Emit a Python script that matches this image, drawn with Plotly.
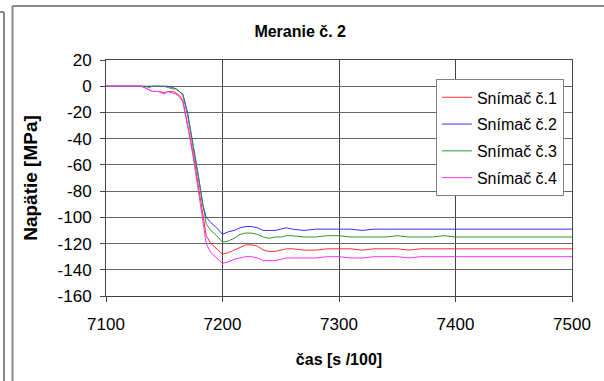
import plotly.graph_objects as go

time = [7100, 7125, 7130, 7133, 7137, 7140, 7145, 7150, 7153, 7157, 7160, 7163, 7166,
        7170, 7175, 7180, 7183, 7186, 7190, 7195, 7200, 7205, 7210, 7215, 7220, 7225,
        7230, 7235, 7240, 7245, 7250, 7255, 7260, 7270, 7280, 7290, 7300, 7310, 7320,
        7330, 7340, 7350, 7360, 7370, 7380, 7390, 7400, 7420, 7440, 7460, 7480, 7500]

snimac1 = [0, 0, 0, -1, -3, -4, -4, -5, -4, -4, -5, -7, -11,
           -28, -52, -80, -98, -114, -120, -124, -128, -127, -125, -123, -121, -121,
           -122, -125, -126, -126, -125, -124, -124, -125, -125, -124, -124, -124, -125,
           -124, -124, -124, -125, -124, -124, -124, -124, -124, -124, -124, -124, -124]

snimac2 = [0, 0, 0, 0, 0, 0, 0, 0, 0, -1, -2, -4, -6,
           -20, -45, -72, -90, -100, -104, -108, -113, -111, -110, -108, -107, -107,
           -108, -110, -110, -110, -109, -108, -109, -110, -109, -109, -109, -109, -110,
           -109, -109, -109, -109, -109, -109, -109, -109, -109, -109, -109, -109, -109]

snimac3 = [0, 0, 0, 0, -1, 0, 0, 0, -1, -2, -2, -4, -7,
           -22, -47, -74, -92, -105, -110, -114, -119, -118, -116, -113, -112, -112,
           -113, -115, -116, -115, -115, -114, -114, -115, -115, -114, -114, -115, -115,
           -115, -115, -114, -115, -115, -115, -114, -115, -115, -115, -115, -115, -115]

snimac4 = [0, 0, 0, -1, -3, -4, -4, -6, -4, -5, -6, -8, -12,
           -30, -55, -84, -104, -120, -127, -131, -135, -134, -132, -131, -130, -130,
           -131, -133, -133, -133, -132, -131, -131, -131, -131, -130, -130, -131, -131,
           -130, -130, -130, -131, -130, -130, -130, -130, -130, -130, -130, -130, -130]

names = ["Snímač č.1", "Snímač č.2", "Snímač č.3", "Snímač č.4"]
colors = ["#FF3030", "#3030FF", "#2E9A2E", "#FF30FF"]
series = [snimac1, snimac2, snimac3, snimac4]

x_ticks = [7100, 7200, 7300, 7400, 7500]
y_ticks = [20, 0, -20, -40, -60, -80, -100, -120, -140, -160]

fig = go.Figure()
for i, (nm, col, vals) in enumerate(zip(names, colors, series)):
    fig.add_trace(go.Scatter(x=time, y=vals, mode="lines", name=nm,
                             legendgroup=f"g{i}",
                             line=dict(color=col, width=1)))

font = "Liberation Sans, Arial, sans-serif"
fig.update_layout(
    width=604, height=381,
    margin=dict(l=106, r=32, t=60, b=85),
    paper_bgcolor="white", plot_bgcolor="white",
    font=dict(family=font, color="#000000"),
    title=dict(text="<b>Meranie č. 2</b>", x=0.497, xref="container", xanchor="center",
               y=1 - 31 / 381, yref="container", yanchor="middle",
               font=dict(size=16, family=font)),
    showlegend=True,
    legend=dict(x=0.708, y=0.918, xanchor="left", yanchor="top",
                bgcolor="white", bordercolor="#808080", borderwidth=1,
                font=dict(size=16, family=font), tracegroupgap=3,
                itemwidth=30),
)
fig.update_xaxes(range=[7100, 7500], tickvals=x_ticks, ticktext=[str(v) for v in x_ticks],
                 showgrid=True, gridcolor="#444444", gridwidth=1,
                 showline=True, linecolor="#444444", mirror=True,
                 ticks="outside", ticklen=5, tickcolor="#444444",
                 tickfont=dict(size=17, family=font), ticklabelstandoff=8,
                 zeroline=False,
                 title=dict(text="<b>čas [s /100]</b>", font=dict(size=16, family=font), standoff=20))
fig.update_yaxes(range=[-160, 20], tickvals=y_ticks, ticktext=[str(v) for v in y_ticks],
                 showgrid=True, gridcolor="#666666", gridwidth=1,
                 showline=True, linecolor="#444444", mirror=True,
                 ticks="outside", ticklen=5, tickcolor="#444444",
                 tickfont=dict(size=17, family=font), ticklabelstandoff=5,
                 zeroline=False,
                 title=dict(text="<b>Napätie [MPa]</b>", font=dict(size=19, family=font), standoff=14))

# outer chart frames
fig.add_shape(type="line", xref="paper", yref="paper", x0=(12.5 - 106) / 466, x1=1.1,
              y0=(296 - 6) / 236, y1=(296 - 6) / 236, line=dict(color="#888888", width=2))
fig.add_shape(type="line", xref="paper", yref="paper", x0=(12.5 - 106) / 466, x1=(12.5 - 106) / 466,
              y0=(296 - 6) / 236, y1=-0.5, line=dict(color="#888888", width=2))
fig.add_shape(type="line", xref="paper", yref="paper", x0=(4 - 106) / 466, x1=(4 - 106) / 466,
              y0=(296 - 12) / 236, y1=-0.5, line=dict(color="#888888", width=2))
fig.add_shape(type="line", xref="paper", yref="paper", x0=(-2 - 106) / 466, x1=(4 - 106) / 466,
              y0=(296 - 12) / 236, y1=(296 - 12) / 236, line=dict(color="#888888", width=2))

fig.write_html("out.html")
